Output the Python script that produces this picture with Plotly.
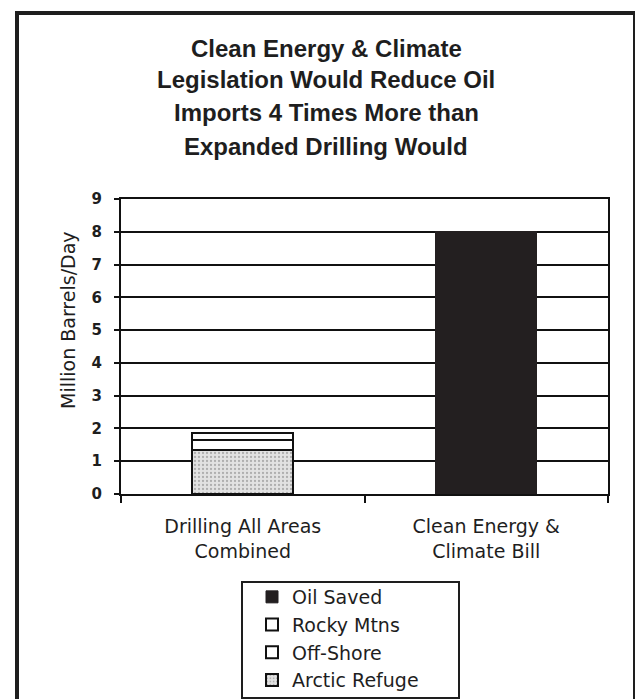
import plotly.graph_objects as go

# ---- data ----
categories = ["Drilling All Areas<br>Combined", "Clean Energy &<br>Climate Bill"]
arctic_refuge = [1.35, 0]
off_shore = [0.30, 0]
rocky_mtns = [0.20, 0]
oil_saved = [0, 8.0]
y_ticks = [0, 1, 2, 3, 4, 5, 6, 7, 8, 9]
title_lines = ["Clean Energy & Climate",
               "Legislation Would Reduce Oil",
               "Imports 4 Times More than",
               "Expanded Drilling Would"]
y_title = "Million Barrels/Day"

# ---- geometry (page pixels; page body has an 8px margin) ----
OFF = 8
W, H = 643 - OFF, 699 - OFF
PL, PR, PT, PB = 121, 608, 199, 494   # page coords of plot area


def px_x(px):
    return (px - PL) / (PR - PL)


def px_y(py):
    return (PB - py) / (PB - PT)


def nz(vals):
    return [v if v else None for v in vals]


LINE = dict(color="#111111", width=2)
FONT = "DejaVu Sans"

fig = go.Figure()
fig.add_trace(go.Bar(
    name="Arctic Refuge", x=categories, y=nz(arctic_refuge),
    marker=dict(color="#dedede", line=LINE,
                pattern=dict(shape=".", fgcolor="#7a7a7a", bgcolor="#e2e2e2",
                             size=4, solidity=0.25))))
fig.add_trace(go.Bar(
    name="Off-Shore", x=categories, y=nz(off_shore),
    marker=dict(color="#ffffff", line=LINE)))
fig.add_trace(go.Bar(
    name="Rocky Mtns", x=categories, y=nz(rocky_mtns),
    marker=dict(color="#ffffff", line=LINE)))
fig.add_trace(go.Bar(
    name="Oil Saved", x=categories, y=nz(oil_saved),
    marker=dict(color="#231f20", line=dict(color="#231f20", width=1))))

annotations = []
for line, yc in zip(title_lines, [48, 80, 113, 146]):
    annotations.append(dict(
        text=line, x=px_x(326), y=px_y(yc), xref="paper", yref="paper",
        xanchor="center", yanchor="middle", showarrow=False,
        font=dict(family="Liberation Sans", size=24, color="#1e1e1e", weight="bold")))
annotations.append(dict(
    text=y_title, x=px_x(68), y=px_y(320), xref="paper", yref="paper",
    xanchor="center", yanchor="middle", showarrow=False, textangle=-90,
    font=dict(family=FONT, size=19, color="#1e1e1e")))

shapes = [
    # outer frame
    dict(type="rect", xref="paper", yref="paper",
         x0=px_x(17), x1=px_x(635), y0=px_y(720), y1=px_y(13),
         line=dict(color="#1e1e1e", width=4), fillcolor="rgba(0,0,0,0)", layer="above"),
    # legend box
    dict(type="rect", xref="paper", yref="paper",
         x0=px_x(242), x1=px_x(459), y0=px_y(698), y1=px_y(582),
         line=dict(color="#1e1e1e", width=2), fillcolor="white", layer="below"),
]

fig.update_layout(
    width=W, height=H,
    margin=dict(l=PL - OFF, r=643 - PR, t=PT - OFF, b=699 - PB, pad=0,
                autoexpand=False),
    paper_bgcolor="white", plot_bgcolor="white",
    barmode="stack", bargap=0.585,
    showlegend=True,
    legend=dict(x=px_x(252), y=px_y(578), xanchor="left", yanchor="top",
                traceorder="reversed", bgcolor="rgba(0,0,0,0)", borderwidth=0,
                font=dict(family=FONT, size=19, color="#1e1e1e")),
    annotations=annotations, shapes=shapes,
    xaxis=dict(type="category", showline=True, linecolor="#111111", linewidth=2,
               mirror=True, ticks="outside", tickson="boundaries", ticklen=7,
               tickcolor="#111111", tickwidth=2, showgrid=False, automargin=False,
               tickfont=dict(family=FONT, size=19, color="#1e1e1e"),
               ticklabelstandoff=14),
    yaxis=dict(range=[0, 9], tickvals=y_ticks, showline=True, linecolor="#111111",
               linewidth=2, mirror=True, ticks="outside", ticklen=5, automargin=False,
               tickcolor="#111111", tickwidth=2, showgrid=True, gridcolor="#111111",
               gridwidth=2, zeroline=False,
               tickfont=dict(family=FONT, size=15, color="#1e1e1e", weight="bold"),
               ticklabelstandoff=9),
)

fig.write_html("out.html")
